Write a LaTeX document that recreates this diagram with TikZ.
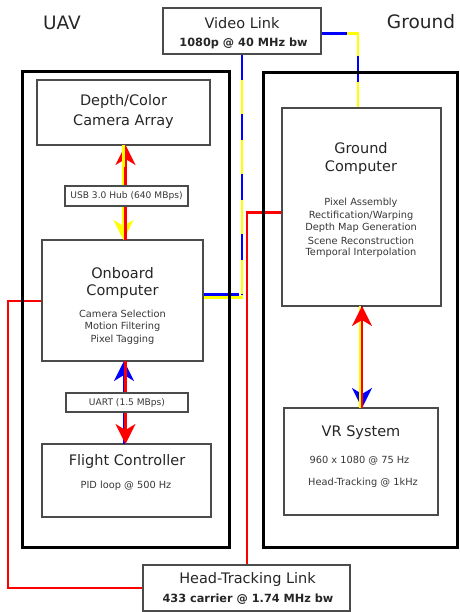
\documentclass[tikz,border=0pt]{standalone}
\usepackage{fontspec}
\setmainfont{DejaVu Sans}
\usetikzlibrary{arrows.meta,backgrounds}
\definecolor{ylw}{RGB}{255,255,0}
\definecolor{blu}{RGB}{0,0,255}
\definecolor{rd}{RGB}{255,0,0}
\definecolor{bordergray}{RGB}{75,75,75}
\definecolor{txtgray}{RGB}{55,55,55}
\begin{document}
\begin{tikzpicture}[x=1pt,y=-1pt,
  outerbox/.style={draw=black,line width=3pt,inner sep=0pt,outer sep=0pt},
  innerbox/.style={draw=bordergray,line width=1.8pt,fill=white,inner sep=0pt,outer sep=0pt},
  labelbox/.style={draw=bordergray,line width=1.6pt,fill=white,inner sep=0pt,outer sep=0pt,
    font=\fontsize{9.1}{10}\selectfont,text=txtgray},
  title/.style={font=\fontsize{14.5}{17}\selectfont,text=black!85,inner sep=0pt},
  body/.style={font=\fontsize{9.8}{12}\selectfont,text=txtgray,inner sep=0pt},
  linkbold/.style={font=\bfseries\fontsize{11.3}{13}\selectfont,text=black!85,inner sep=0pt},
  side/.style={font=\fontsize{18.5}{22}\selectfont,text=black!85,inner sep=0pt},
  yl/.style={draw=ylw,line width=2.5pt},
  bl/.style={draw=blu,line width=2.5pt,dash pattern=on 26pt off 34pt},
  blsolid/.style={draw=blu,line width=2.5pt},
  rl/.style={draw=rd,line width=2.2pt},
  tipr/.tip={Stealth[length=20pt,width=20pt,inset=6pt,color=rd]},
  tipy/.tip={Stealth[length=20pt,width=20pt,inset=6pt,color=ylw]},
  tipb/.tip={Stealth[length=20pt,width=20pt,inset=6pt,color=blu]}
]
\useasboundingbox (0,0) rectangle (459,612);

% side labels
\node[side] (uavlbl) at (62,23) {UAV};
\node[side] (gndlbl) at (421,22) {Ground};

% outer boxes
\node[outerbox,minimum width=207,minimum height=475] (uavbox) at (125.5,309.5) {};
\node[outerbox,minimum width=194,minimum height=474] (gndbox) at (360,310) {};

% link boxes
\node[innerbox,minimum width=158,minimum height=46] (video) at (242,31) {};
\node[title] (videot) at (242,23) {Video Link};
\node[linkbold] (videos) at (243.5,43) {1080p @ 40 MHz bw};

\node[innerbox,minimum width=207,minimum height=46] (ht) at (246.5,588) {};
\node[title] (htt) at (247.5,579) {Head-Tracking Link};
\node[linkbold] (hts) at (248,599) {433 carrier @ 1.74 MHz bw};

% UAV inner boxes
\node[innerbox,minimum width=173,minimum height=65] (camera) at (123.5,112.5) {};
\node[title] (camt1) at (123.5,102) {Depth/Color};
\node[title] (camt2) at (123.5,122) {Camera Array};

\node[innerbox,minimum width=161,minimum height=121] (onboard) at (122.5,300.5) {};
\node[title] (obt1) at (122.5,273) {Onboard};
\node[title] (obt2) at (122.5,292) {Computer};
\node[body] (obb1) at (122.5,314) {Camera Selection};
\node[body] (obb2) at (122.5,327) {Motion Filtering};
\node[body] (obb3) at (122.5,340) {Pixel Tagging};

\node[innerbox,minimum width=169,minimum height=73] (flight) at (126.5,480.5) {};
\node[title] (flt) at (127,461) {Flight Controller};
\node[body] (flb) at (126,486) {PID loop @ 500 Hz};

% Ground inner boxes
\node[innerbox,minimum width=159,minimum height=198] (gcomp) at (361.5,207) {};
\node[title] (gct1) at (361,148) {Ground};
\node[title] (gct2) at (361,168) {Computer};
\node[body] (gcb1) at (361,203) {Pixel Assembly};
\node[body] (gcb2) at (361,215.5) {Rectification/Warping};
\node[body] (gcb3) at (361,228) {Depth Map Generation};
\node[body] (gcb4) at (361,240.5) {Scene Reconstruction};
\node[body] (gcb5) at (361,253) {Temporal Interpolation};

\node[innerbox,minimum width=154,minimum height=107] (vr) at (361,461.5) {};
\node[title] (vrt) at (361,433) {VR System};
\node[body] (vrb1) at (359.5,461) {960 x 1080 @ 75 Hz};
\node[body] (vrb2) at (363,483) {Head-Tracking @ 1kHz};

% helper coordinates
\coordinate (vA) at (242,297.5);
\coordinate (vB) at (242,294.5);
\coordinate (vB2) at (239,294.5);
\coordinate (vC) at (358,33.5);
\coordinate (gY) at (359.5,0);
\coordinate (gR) at (362,0);
\coordinate (cY) at (123.5,0);
\coordinate (cR) at (125.5,0);
\coordinate (fB) at (124,0);
\coordinate (fR) at (125.5,0);
\coordinate (hL) at (8,301);
\coordinate (hR) at (247,212.5);

\begin{pgfonlayer}{background}
% video link
\draw[yl] (video.south -| vA) -- (vA) -- (onboard.east |- vA);
\draw[bl] (video.south -| vB) -- (vB);
\draw[blsolid] (vB2) -- (onboard.east |- vB2);
\draw[yl] (video.east |- vC) -- (vC) -- (gcomp.north -| vC);
\draw[bl] (video.east |- vC) -- (vC) -- (gcomp.north -| vC);
% head tracking link
\draw[rl] (ht.west) -| (hL) -- (onboard.west |- hL);
\draw[rl] (ht.north -| hR) |- (gcomp.west |- hR);
\end{pgfonlayer}

% camera <-> onboard
\draw[rl,{tipr}-] (camera.south -| cR) -- (onboard.north -| cR);
\draw[yl,-{tipy}] (camera.south -| cY) -- (onboard.north -| cY);
\draw[rl,shorten <=22pt] (camera.south -| cR) -- (onboard.north -| cR);

% onboard <-> flight
\draw[draw=blu,line width=2.2pt,{tipb}-] (onboard.south -| fB) -- (flight.north -| fB);
\draw[rl,-{tipr}] (onboard.south -| fR) -- (flight.north -| fR);

% ground computer <-> VR
\draw[draw=blu,line width=2.2pt,-{tipb}] (gcomp.south -| gR) -- (vr.north -| gR);
\draw[yl,line width=2pt] (gcomp.south -| gY) -- (vr.north -| gY);
\draw[rl,{tipr}-] (gcomp.south -| gR) -- (vr.north -| gR);

% label boxes
\node[labelbox,minimum width=123,minimum height=20] (usb) at (126.5,196) {USB 3.0 Hub (640 MBps)};
\node[labelbox,minimum width=122,minimum height=19] (uart) at (127,402.5) {UART (1.5 MBps)};
\end{tikzpicture}
\end{document}
